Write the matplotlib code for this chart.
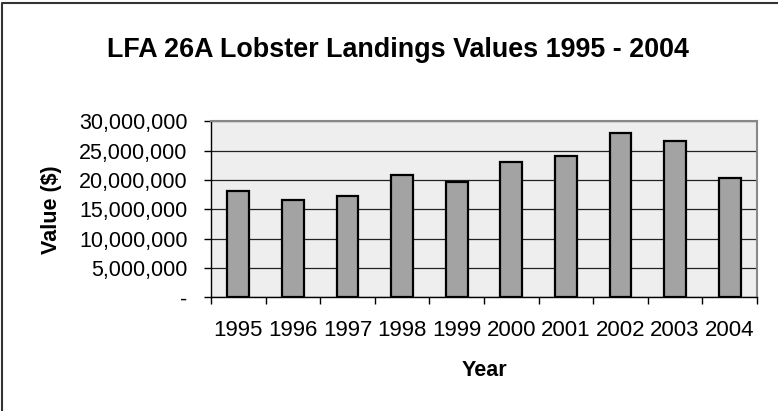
import matplotlib.pyplot as plt
import numpy as np
from matplotlib.ticker import FuncFormatter
from matplotlib.lines import Line2D

plt.rcParams['font.family'] = ['Liberation Sans', 'DejaVu Sans']

years = ['1995', '1996', '1997', '1998', '1999', '2000', '2001', '2002', '2003', '2004']
values = [18200000, 16600000, 17300000, 20800000, 19700000,
          23100000, 24000000, 28050000, 26600000, 20300000]

fig = plt.figure(figsize=(7.78, 4.11), dpi=100)
ax = fig.add_axes([211/778, 1-297.3/411, (757-211)/778, (297.3-121.3)/411])
ax.set_facecolor('#eeeeee')

x = np.arange(len(years))
ax.bar(x, values, width=0.4, color='#a3a3a3', edgecolor='black', linewidth=1.6, zorder=3)

ax.set_xlim(-0.5, len(years)-0.5)
ax.set_ylim(0, 30000000)
ax.set_yticks(np.arange(0, 30000001, 5000000))
ax.yaxis.set_major_formatter(FuncFormatter(lambda v, p: '-' if v == 0 else f'{int(v):,}'))
ax.grid(axis='y', color='#222222', linewidth=0.9, zorder=1)

# ticks sit between categories, labels centred under bars
ax.set_xticks(np.arange(-0.5, len(years), 1))
ax.set_xticklabels([])
ax.set_xticks(x, minor=True)
ax.set_xticklabels(years, minor=True)
ax.tick_params(axis='x', which='minor', length=0, pad=16, labelsize=16)
ax.tick_params(axis='x', which='major', direction='out', length=5, width=1)
ax.tick_params(axis='y', direction='out', length=5, width=1, labelsize=15.5, pad=12)

for s in ['top', 'right']:
    ax.spines[s].set_color('#888888')
    ax.spines[s].set_linewidth(1.5)
for s in ['left', 'bottom']:
    ax.spines[s].set_color('black')
    ax.spines[s].set_linewidth(1)

ax.set_ylabel('Value ($)', fontsize=15.5, fontweight='bold', labelpad=12)
ax.set_xlabel('Year', fontsize=15.5, fontweight='bold', labelpad=14)
fig.text(0.512, 1-50/411, 'LFA 26A Lobster Landings Values 1995 - 2004',
         ha='center', va='center', fontsize=19.4, fontweight='bold')

# outer chart border (only top and left edges visible in the crop)
fig.lines.append(Line2D([1.5/778, 1.5/778, 1], [0, 1-3/411, 1-3/411],
                        transform=fig.transFigure, color='#333333', linewidth=1.5))

fig.savefig('out.png', dpi=100)
